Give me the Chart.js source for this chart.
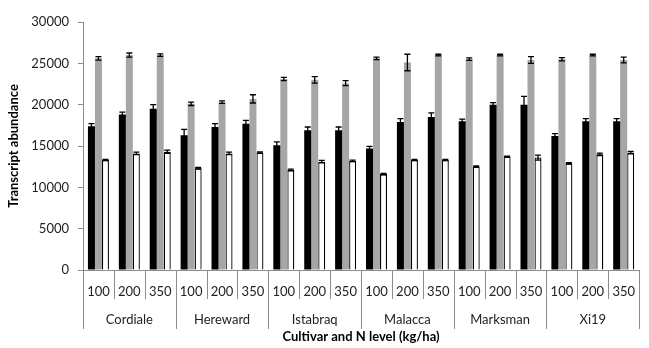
<!DOCTYPE html>
<html>
<head>
<meta charset="utf-8">
<script src="https://cdn.jsdelivr.net/npm/chart.js@4"></script>
<style>
  html, body { margin: 0; padding: 0; background: #fff; }
  #wrap { position: relative; width: 649px; height: 348px; }
</style>
</head>
<body>
<div id="wrap"><canvas id="chart"></canvas></div>
<script>
// kategori: 6 kultivar x 3 level N
const cultivars = ['Cordiale', 'Hereward', 'Istabraq', 'Malacca', 'Marksman', 'Xi19'];
const nLevels = ['100', '200', '350'];
const labels = cultivars.flatMap(() => nLevels);

// nilai seri
const blackVals = [17400, 18800, 19500, 16300, 17300, 17700, 15100, 16900, 16900, 14700, 17900, 18500, 18000, 20000, 20000, 16200, 18000, 18000];
const blackErr  = [300, 300, 500, 700, 400, 400, 400, 400, 400, 250, 400, 500, 250, 250, 1000, 300, 300, 300];
const grayVals  = [25600, 26000, 26000, 20100, 20300, 20700, 23100, 23000, 22600, 25600, 25100, 26000, 25500, 26000, 25400, 25500, 26000, 25400];
const grayErr   = [200, 250, 150, 200, 150, 500, 200, 400, 300, 150, 1000, 100, 150, 100, 400, 200, 100, 350];
const whiteVals = [13300, 14100, 14300, 12300, 14100, 14200, 12100, 13100, 13200, 11600, 13300, 13300, 12500, 13700, 13600, 12900, 14000, 14200];
const whiteErr  = [80, 150, 200, 100, 150, 100, 100, 150, 80, 80, 80, 80, 80, 80, 300, 80, 150, 150];

const FONT = 'Lato, "Open Sans", sans-serif';
const AXIS_GRAY = '#8c8c8c';

// error bar
const errorBars = {
  id: 'errorBars',
  afterDatasetsDraw(chart) {
    const ctx = chart.ctx;
    const y = chart.scales.y;
    ctx.save();
    ctx.strokeStyle = '#000';
    ctx.lineWidth = 1.3;
    chart.data.datasets.forEach((ds, di) => {
      const meta = chart.getDatasetMeta(di);
      meta.data.forEach((bar, i) => {
        const v = ds.data[i], e = ds.errors[i];
        const top = y.getPixelForValue(v + e);
        const bot = y.getPixelForValue(v - e);
        const x = bar.x;
        ctx.beginPath();
        ctx.moveTo(x, top); ctx.lineTo(x, bot);
        ctx.moveTo(x - 3, top); ctx.lineTo(x + 3, top);
        ctx.moveTo(x - 3, bot); ctx.lineTo(x + 3, bot);
        ctx.stroke();
      });
    });
    ctx.restore();
  }
};

// garis pemisah kategori di bawah sumbu x
const separators = {
  id: 'separators',
  afterDraw(chart) {
    const ctx = chart.ctx;
    const xs = chart.scales.x, x2 = chart.scales.x2;
    const n = labels.length;
    const step = (xs.right - xs.left) / n;
    ctx.save();
    ctx.strokeStyle = AXIS_GRAY;
    ctx.lineWidth = 1;
    for (let i = 0; i <= n; i++) {
      const px = Math.round(xs.left + i * step) + 0.5;
      const end = i % 3 === 0 ? x2.top + 30 : xs.bottom;
      ctx.beginPath();
      ctx.moveTo(px, xs.top);
      ctx.lineTo(px, end);
      ctx.stroke();
    }
    ctx.restore();
  }
};

new Chart(document.getElementById('chart'), {
  type: 'bar',
  data: {
    labels,
    datasets: [
      { label: 'A', data: blackVals, errors: blackErr, backgroundColor: '#000', borderWidth: 0 },
      { label: 'B', data: grayVals, errors: grayErr, backgroundColor: '#a6a6a6', borderWidth: 0 },
      { label: 'C', data: whiteVals, errors: whiteErr, backgroundColor: '#fff', borderColor: '#000', borderWidth: 1.3 },
    ]
  },
  options: {
    responsive: true,
    maintainAspectRatio: false,
    animation: false,
    layout: { padding: { top: 22, right: 0, left: 0, bottom: 0 } },
    datasets: { bar: { categoryPercentage: 0.68, barPercentage: 1.0 } },
    plugins: { legend: { display: false }, tooltip: { enabled: false } },
    scales: {
      x: {
        grid: { display: false, drawTicks: false },
        border: { display: true, color: AXIS_GRAY },
        ticks: { autoSkip: false, maxRotation: 0, padding: 14, color: '#222', font: { family: FONT, size: 13 } },
        afterFit: s => { s.height = 29; }
      },
      x2: {
        type: 'category',
        position: 'bottom',
        labels: cultivars,
        offset: true,
        grid: { display: false, drawTicks: false },
        border: { display: false },
        ticks: { autoSkip: false, maxRotation: 0, padding: 13, color: '#222', font: { family: FONT, size: 13 } },
        title: { display: true, text: 'Cultivar and N level (kg/ha)', color: '#000', font: { family: FONT, size: 13, weight: 'bold' }, padding: { top: 0, bottom: 3 } },
        afterFit: s => { s.height = 49; }
      },
      y: {
        min: 0,
        max: 30000,
        ticks: { stepSize: 5000, padding: 9, color: '#222', font: { family: FONT, size: 13 }, callback: v => String(v) },
        grid: { display: true, drawOnChartArea: false, drawTicks: true, tickLength: 5, color: AXIS_GRAY },
        border: { display: true, color: AXIS_GRAY },
        title: { display: true, text: 'Transcript abundance', color: '#000', font: { family: FONT, size: 13, weight: 'bold' }, padding: { top: 6, bottom: 0 } },
        afterFit: s => { s.width = 83; }
      }
    }
  },
  plugins: [errorBars, separators]
});
</script>
</body>
</html>
